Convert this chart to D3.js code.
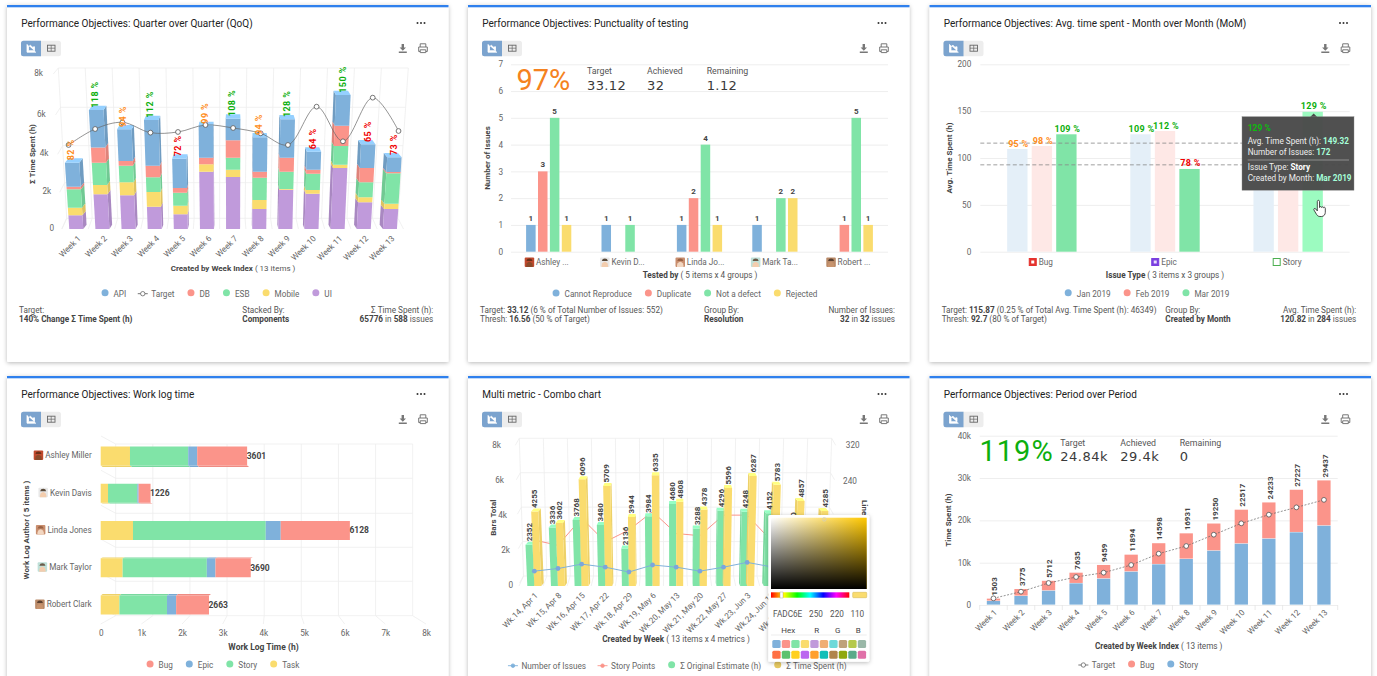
<!doctype html>
<html>
<head>
<meta charset="utf-8"/>
<title>Performance Objectives dashboard</title>
<script src="https://d3js.org/d3.v7.min.js"></script>
<style>
html,body{margin:0;padding:0;background:#fff;overflow:hidden}
svg{display:block}
text{font-family:Roboto,sans-serif}
</style>
</head>
<body>
<script>
// ---- data ----
var weeks = ['Week 1','Week 2','Week 3','Week 4','Week 5','Week 6','Week 7','Week 8','Week 9','Week 10','Week 11','Week 12','Week 13'];

// Quarter over Quarter
var qoqUi     = [745,1891,1836,1218,800,3087,2807,1091,2140,1927,3280,1455,1091];
var qoqMobile = [419,495,690,800,473,386,386,491,35,196,176,282,291];
var qoqEsb    = [994,1175,877,771,709,0,631,1190,912,859,968,789,1618];
var qoqDb     = [140,789,246,614,246,351,888,316,737,211,1034,754,70];
var qoqApi    = [1263,1894,1622,2343,1544,1617,1102,1776,1956,943,1518,1228,772];
var qoqTarget = [4475,5288,5627,5102,5136,5492,5339,5068,4475,6406,4661,6846,5186];
var qoqPct    = [82,118,94,112,72,99,108,94,128,64,150,65,73];
var qoqTicks  = [0,2000,4000,6000,8000];

// Punctuality of testing
var testers     = ['Ashley ...','Kevin D...','Linda Jo...','Mark Ta...','Robert ...'];
var cannotRepro = [1,1,1,1,null];
var duplicate   = [3,null,2,null,1];
var notDefect   = [5,1,4,2,5];
var rejected    = [1,null,1,2,1];

// Avg. time spent MoM (Story Jan/Feb labels sit under the tooltip)
var issueTypes = ['Bug','Epic','Story'];
var momJan = [109.6,125.3,128];
var momFeb = [112.8,128.8,125];
var momMar = [125.3,88.3,149.32];
var momJanPct = [95,109,null];
var momFebPct = [98,112,null];
var momMarPct = [109,78,129];
var momTarget = 115.87;
var momThresh = 92.7;

// Work log time
var authors  = ['Ashley Miller','Kevin Davis','Linda Jones','Mark Taylor','Robert Clark'];
var logTask  = [720,180,794,540,460];
var logStory = [1432,720,3265,2070,1170];
var logEpic  = [221,33,368,213,225];
var logBug   = [1228,293,1701,867,808];
var logTicks = [0,1000,2000,3000,4000,5000,6000,7000,8000];

// Combo chart
var comboWeeks = ['Wk.14, Apr 1','Wk.15, Apr 8','Wk.16, Apr 15','Wk.17, Apr 22','Wk.18, Apr 29','Wk.19, May 6','Wk.20, May 13','Wk.21, May 20','Wk.22, May 27','Wk.23, Jun 3','Wk.24, Jun 10','Wk.25, Jun 17','Wk.26, Jun 24'];
var comboEstimate = [2352,3336,3768,3480,2136,3984,4680,3288,4296,4248,4152,2970,2700];
var comboSpent    = [4255,3602,6096,5709,3944,6335,4808,4378,5596,6287,5783,4857,4285];
var comboIssues   = [34,40,50,43,32,48,43,34,43,54,44,40,38];
var comboPoints   = [105,93,155,101,128,170,120,115,162,162,105,110,100];

// Period over period
var popStory  = [945,2126,3386,5118,6220,7874,9606,10866,12835,14488,15669,17165,18740];
var popBug    = [558,1649,2326,2517,3239,4020,4992,6065,6415,8029,8564,10062,10697];
var popTarget = [1575,3150,5197,6614,7638,9449,12126,13937,16614,19291,21339,23071,24840];

// palette
var blue='#7FB1DB', red='#FB948A', green='#80E4A7', yellow='#FADC6E', purple='#C09ADB';
var swatches1 = ['#7FB1DB','#FB948A','#80E4A7','#FADC6E','#C09ADB','#F0AE75','#6ED9D9','#BFA27A','#B5C94B','#9AB8A8'];
var swatches2 = ['#FF7043','#5CC26E','#FFD020','#BB66F0','#FF9F2E','#10BFB8','#B0844A','#8FA80E','#5BAA8A','#E070A8'];
var avatars = [['#C0492D','#8A4A2A','#6B3018'],['#E8E8E8','#F3CDAE','#5A4A3A'],['#C98E6E','#F2D6C0','#9A6244'],['#BFE0D8','#F3CDAE','#6A5A48'],['#B98A68','#C8946E','#5A4030']];

function pctColor(p){ return p>=100 ? '#0DAF0D' : p>=80 ? '#FF8C1A' : '#F00000'; }
function kFmt(d){ return d ? d/1000+'k' : '0'; }

var svg = d3.select('body').append('svg').attr('width',1377).attr('height',676);
var defs = svg.append('defs');
defs.append('filter').attr('id','shadow').attr('x','-5%').attr('y','-5%').attr('width','110%').attr('height','110%')
  .append('feDropShadow').attr('dx',0).attr('dy',1).attr('stdDeviation',2.2).attr('flood-color','#000').attr('flood-opacity',0.28);
var gh = defs.append('linearGradient').attr('id','pickH');
gh.append('stop').attr('offset','0').attr('stop-color','#fff');
gh.append('stop').attr('offset','1').attr('stop-color','#FFC800');
var gv = defs.append('linearGradient').attr('id','pickV').attr('x2',0).attr('y2',1);
gv.append('stop').attr('offset','0').attr('stop-color','#000').attr('stop-opacity',0);
gv.append('stop').attr('offset','1').attr('stop-color','#000').attr('stop-opacity',1);
var hue = defs.append('linearGradient').attr('id','pickHue');
['#f00','#ff0','#0f0','#0ff','#00f','#f0f','#f00'].forEach(function(c,i){
  hue.append('stop').attr('offset',i/6).attr('stop-color',c);
});

// ---- little helpers ----
function txt(g,x,y,s,o){
  o=o||{};
  var t=g.append('text').attr('x',x).attr('y',y).attr('dy','0.35em')
    .attr('font-size',o.size||8.2).attr('fill',o.fill||'#555')
    .attr('text-anchor',o.anchor||'start').text(s);
  if(o.bold) t.attr('font-weight','bold');
  if(o.family) t.style('font-family',o.family);
  if(o.spacing) t.attr('letter-spacing',o.spacing);
  if(o.rotate!==undefined) t.attr('transform','rotate('+o.rotate+' '+x+' '+y+')');
  return t;
}
function rich(g,x,y,parts,o){
  o=o||{};
  var t=g.append('text').attr('x',x).attr('y',y).attr('dy','0.35em')
    .attr('font-size',o.size||8.2).attr('fill',o.fill||'#555').attr('text-anchor',o.anchor||'start');
  parts.forEach(function(p){
    var s=t.append('tspan').text(p[0]);
    if(p[1]) s.attr('font-weight','bold').attr('fill',p[2]||'#444');
  });
  return t;
}
function card(x,y,h,title){
  var g=svg.append('g');
  g.append('rect').attr('x',x).attr('y',y).attr('width',441.5).attr('height',h).attr('rx',1.5).attr('fill','#fff').attr('filter','url(#shadow)');
  g.append('rect').attr('x',x).attr('y',y).attr('width',441.5).attr('height',2.3).attr('fill','#2F80ED');
  txt(g,x+14.3,y+18.5,title,{size:10,fill:'#222'});
  [409.5,413,416.5].forEach(function(d){ g.append('circle').attr('cx',x+d+1).attr('cy',y+18).attr('r',1).attr('fill','#333'); });
  // chart / table switch
  var by=y+35.7;
  g.append('rect').attr('x',x+14).attr('y',by).attr('width',40).attr('height',15.5).attr('rx',2.5).attr('fill','#EDEDED');
  g.append('path').attr('d','M'+(x+16.5)+' '+by+'h17.5v15.5h-17.5a2.5 2.5 0 0 1 -2.5 -2.5v-10.5a2.5 2.5 0 0 1 2.5 -2.5z').attr('fill','#7BA3CE');
  g.append('path').attr('d','M'+(x+20)+' '+(by+3.5)+'v8h9 M'+(x+21.5)+' '+(by+10)+'v-4l2 -1.5l1.8 2l2.2 -0.5v4z').attr('fill','#fff').attr('stroke','#fff').attr('stroke-width',0.8);
  g.append('rect').attr('x',x+40.5).attr('y',by+4.5).attr('width',7.5).attr('height',6).attr('fill','none').attr('stroke','#666').attr('stroke-width',0.9);
  g.append('path').attr('d','M'+(x+40.5)+' '+(by+7.5)+'h7.5M'+(x+44.2)+' '+(by+4.5)+'v6').attr('stroke','#666').attr('stroke-width',0.7);
  // download / print
  var ix=x+395.8, iy=y+43;
  g.append('path').attr('d','M'+(ix-1.2)+' '+(iy-4)+'h2.4v3.5h2l-3.2 3.2l-3.2 -3.2h2z M'+(ix-4)+' '+(iy+3.5)+'h8v1.5h-8z').attr('fill','#777');
  var px=x+416, py=y+43;
  g.append('path').attr('d','M'+(px-2.8)+' '+(py-1)+'v-3.2h5.6v3.2 M'+(px-2.8)+' '+(py+3.5)+'h-1.5v-4.5h8.6v4.5h-1.5 M'+(px-2.8)+' '+(py+1.8)+'h5.6v2.8h-5.6z').attr('fill','none').attr('stroke','#777').attr('stroke-width',1);
  return g;
}
function legend(g,cx,y,items){
  var it=g.append('g'), xx=0;
  items.forEach(function(d){
    var t=txt(it,xx+12,y,d.label,{size:8.2,fill:'#666'});
    var w=t.node().getComputedTextLength();
    if(d.kind==='line'){
      it.append('line').attr('x1',xx-1.5).attr('x2',xx+8.5).attr('y1',y).attr('y2',y).attr('stroke',d.color).attr('stroke-width',0.9);
      it.append('circle').attr('cx',xx+3.5).attr('cy',y).attr('r',d.hollow?2.2:1.8).attr('fill',d.hollow?'#fff':d.color).attr('stroke',d.color).attr('stroke-width',0.8);
    } else {
      it.append('circle').attr('cx',xx+3.5).attr('cy',y-1).attr('r',3.5).attr('fill',d.color);
    }
    xx+=12+w+d.gap;
  });
  it.attr('transform','translate('+(cx-(xx-items[items.length-1].gap)/2)+',0)');
}
function avatar(g,x,y,a){
  g.append('rect').attr('x',x).attr('y',y).attr('width',9.5).attr('height',9.5).attr('rx',1).attr('fill',a[0]);
  g.append('path').attr('d','M'+(x+1.5)+' '+(y+9.5)+'a3.3 4.5 0 1 1 6.5 0z').attr('fill',a[1]);
  g.append('path').attr('d','M'+(x+1.7)+' '+(y+3.5)+'a3.1 3 0 0 1 6.1 0z').attr('fill',a[2]);
}
// 3d column: perspective pulls the columns apart going up, back face shrinks toward centre
function persp(P){
  var fx=function(x,y){ return P.cx+(x-P.cx)*(1+(P.y0-y)*P.lean); };
  var bx=function(x,y){ var f=fx(x,y); return f+(P.cx-f)*P.depth; };
  return {fx:fx,bx:bx};
}
function columns(g,rows,color,P){
  var p=persp(P);
  var col=d3.color(color);
  var pts=function(a){ return a.map(function(q){return q.join(',');}).join(' '); };
  var lay=g.append('g');
  lay.selectAll('polygon.side').data(rows).join('polygon').attr('class','side')
    .attr('fill',col.darker(P.shade))
    .attr('points',function(d){
      var s=(d.x0+d.x1)/2<P.cx ? d.x1 : d.x0;
      return pts([[p.fx(s,d.yBot),d.yBot],[p.fx(s,d.yTop),d.yTop],[p.bx(s,d.yTop),d.yTop-P.rise],[p.bx(s,d.yBot),d.yBot-P.rise]]);
    });
  lay.selectAll('polygon.front').data(rows).join('polygon').attr('class','front')
    .attr('fill',color)
    .attr('points',function(d){
      return pts([[p.fx(d.x0,d.yBot),d.yBot],[p.fx(d.x1,d.yBot),d.yBot],[p.fx(d.x1,d.yTop),d.yTop],[p.fx(d.x0,d.yTop),d.yTop]]);
    });
  lay.selectAll('polygon.cap').data(rows.filter(function(d){return d.cap;})).join('polygon').attr('class','cap')
    .attr('fill',col.brighter(0.45))
    .attr('points',function(d){
      return pts([[p.fx(d.x0,d.yTop),d.yTop],[p.fx(d.x1,d.yTop),d.yTop],[p.bx(d.x1,d.yTop),d.yTop-P.rise],[p.bx(d.x0,d.yTop),d.yTop-P.rise]]);
    });
}
function styleAxis(a,grid){
  a.select('.domain').remove();
  a.selectAll('.tick line').attr('stroke',grid||'#EEE');
  a.selectAll('.tick text').attr('fill','#666').attr('font-size',8.2).style('font-family','Roboto,sans-serif');
}

// ---- 1. Quarter over Quarter ----
(function(){
  var g=card(7,5,357,'Performance Objectives: Quarter over Quarter (QoQ)');
  var x=d3.scaleBand().domain(weeks).range([63.2,403]);
  var yFront=d3.scaleLinear().domain(qoqTicks).range([229,192.3,154.3,115,74]);
  var yBack=d3.scaleLinear().domain(qoqTicks).range([218.3,182.7,145.7,107.3,68]);
  var xTop=d3.scaleLinear().domain([0,13]).range([58.3,408.3]);
  var xBot=d3.scaleLinear().domain([0,13]).range([66.7,398]);
  var xFloor=d3.scaleLinear().domain([0,13]).range([62,403.5]);
  var grid=g.append('g').attr('stroke','#EDEDED').attr('stroke-width',0.8).attr('fill','none');
  grid.selectAll('path.v').data(d3.range(14)).join('path').attr('class','v')
    .attr('d',function(i){return 'M'+xTop(i)+' 68L'+xBot(i)+' 218.3L'+xFloor(i)+' 229';});
  grid.selectAll('path.h').data(qoqTicks).join('path').attr('class','h')
    .attr('d',function(t){
      var yb=yBack(t), f=(yb-68)/150.3;
      var l=58.3+8.4*f, r=408.3-10.3*f;
      return 'M'+(l-5)+' '+yFront(t)+'L'+l+' '+yb+'L'+r+' '+yb;
    });
  g.selectAll('text.ty').data(qoqTicks).join('text').attr('class','ty')
    .attr('x',function(t){return 43+ (8000-t)/8000*11;})
    .attr('y',function(t){return yFront(t)-1;}).attr('dy','0.35em').attr('text-anchor','end')
    .attr('font-size',8.2).attr('fill','#666').text(kFmt);

  var P={cx:233,y0:229,lean:0.0004,depth:0.022,rise:4.3,shade:0.35};
  var keys=['ui','mobile','esb','db','api'];
  var table=weeks.map(function(w,i){return {w:w,ui:qoqUi[i],mobile:qoqMobile[i],esb:qoqEsb[i],db:qoqDb[i],api:qoqApi[i]};});
  var colors={ui:purple,mobile:yellow,esb:green,db:red,api:blue};
  var bw=14;
  d3.stack().keys(keys)(table).forEach(function(layer){
    var rows=layer.filter(function(d){return d[1]>d[0];}).map(function(d){
      var cx=x(d.data.w)+x.bandwidth()/2;
      return {x0:cx-bw/2,x1:cx+bw/2,yTop:yFront(d[1]),yBot:yFront(d[0]),cap:layer.key==='api'};
    });
    columns(g,rows,colors[layer.key],P);
  });
  var p=persp(P);
  var cxOf=function(i){return x(weeks[i])+x.bandwidth()/2;};
  var tops=weeks.map(function(w,i){return qoqUi[i]+qoqMobile[i]+qoqEsb[i]+qoqDb[i]+qoqApi[i];});
  var tPts=qoqTarget.map(function(v,i){ var yy=yFront(v); return [233+(p.fx(cxOf(i),yy)-233)*1.015,yy]; });
  g.append('path').attr('d',d3.line().curve(d3.curveCatmullRom.alpha(0.5))(tPts)).attr('fill','none').attr('stroke','#666').attr('stroke-width',0.7);
  g.selectAll('circle.t').data(tPts).join('circle').attr('class','t').attr('cx',function(d){return d[0];}).attr('cy',function(d){return d[1];})
    .attr('r',2.4).attr('fill','#fff').attr('stroke','#555').attr('stroke-width',0.8);
  tops.forEach(function(v,i){
    var yy=yFront(v)-P.rise;
    txt(g,p.fx(cxOf(i),yy)-1,yy+2,qoqPct[i]+' %',{size:9,bold:true,fill:pctColor(qoqPct[i]),spacing:0.4,rotate:-90});
  });
  weeks.forEach(function(w,i){
    txt(g,cxOf(i)+3,237,w,{fill:'#666',anchor:'end',rotate:-45});
  });
  txt(g,32,154,'Σ Time Spent (h)',{size:8,bold:true,fill:'#444',anchor:'middle',rotate:-90});
  rich(g,233,267.7,[['Created by Week Index',true],[' ( 13 items )']],{anchor:'middle',size:8});
  legend(g,216.7,293.7,[{label:'API',color:blue,gap:13},{label:'Target',color:'#666',kind:'line',hollow:true,gap:13},{label:'DB',color:red,gap:13},{label:'ESB',color:green,gap:13},{label:'Mobile',color:yellow,gap:13},{label:'UI',color:purple,gap:0}]);
  txt(g,19,310.3,'Target:');
  rich(g,19,319.5,[['140% Change Σ Time Spent (h)',true]]);
  txt(g,242.3,310.3,'Stacked By:');
  rich(g,242.3,319.5,[['Components',true]]);
  txt(g,433.3,310.3,'Σ Time Spent (h):',{anchor:'end'});
  rich(g,433.3,319.5,[['65776',true],[' in '],['588',true],[' issues']],{anchor:'end'});
})();

// ---- 2. Punctuality of testing ----
(function(){
  var g=card(468,5,357,'Performance Objectives: Punctuality of testing');
  var x=d3.scaleBand().domain(testers).range([511,888]);
  var y=d3.scaleLinear().domain([0,7]).range([251.7,64.3]);
  var a=g.append('g').attr('transform','translate(511,0)').call(d3.axisLeft(y).ticks(7).tickSize(-377).tickPadding(8));
  styleAxis(a);
  var series=[{k:'Cannot Reproduce',v:cannotRepro,c:blue},{k:'Duplicate',v:duplicate,c:red},{k:'Not a defect',v:notDefect,c:green},{k:'Rejected',v:rejected,c:yellow}];
  var x1=d3.scaleBand().domain(series.map(function(s){return s.k;})).range([-22.6,22.6]).paddingInner(0.2);
  series.forEach(function(s){
    var rows=s.v.map(function(v,i){return {v:v,t:testers[i]};}).filter(function(d){return d.v!==null;});
    g.selectAll(null).data(rows).join('rect')
      .attr('x',function(d){return x(d.t)+x.bandwidth()/2+x1(s.k);}).attr('width',x1.bandwidth())
      .attr('y',function(d){return y(d.v);}).attr('height',function(d){return y(0)-y(d.v);}).attr('fill',s.c);
    g.selectAll(null).data(rows).join('text')
      .attr('x',function(d){return x(d.t)+x.bandwidth()/2+x1(s.k)+x1.bandwidth()/2;})
      .attr('y',function(d){return y(d.v)-4;}).attr('text-anchor','middle').attr('font-size',8).attr('font-weight','bold').attr('fill','#444').text(function(d){return d.v;});
  });
  testers.forEach(function(t,i){
    var c=x(t)+x.bandwidth()/2;
    avatar(g,c-24,257.5,avatars[i]);
    txt(g,c-12.7,262.3,t,{fill:'#666'});
  });
  txt(g,487.7,158,'Number of Issues',{size:8,bold:true,fill:'#444',anchor:'middle',rotate:-90});
  rich(g,700,275.3,[['Tested by',true],[' ( 5 items x 4 groups )']],{anchor:'middle'});
  legend(g,685,294,[{label:'Cannot Reproduce',color:blue,gap:13},{label:'Duplicate',color:red,gap:13},{label:'Not a defect',color:green,gap:13},{label:'Rejected',color:yellow,gap:0}]);
  txt(g,516.5,80,'97%',{size:29,fill:'#F58220'});
  var big={size:13,fill:'#3A3A3A',family:'"DejaVu Sans"',spacing:0.4};
  [['Target','33.12',587],['Achieved','32',647],['Remaining','1.12',706.7]].forEach(function(k){
    txt(g,k[2],71.3,k[0],{size:8.8,fill:'#555'});
    txt(g,k[2],85.3,k[1],big);
  });
  rich(g,480,310.3,[['Target: '],['33.12',true],[' (6 % of Total Number of Issues: 552)']]);
  rich(g,480,319.5,[['Thresh: '],['16.56',true],[' (50 % of Target)']]);
  txt(g,704,310.3,'Group By:');
  rich(g,704,319.5,[['Resolution',true]]);
  txt(g,895,310.3,'Number of Issues:',{anchor:'end'});
  rich(g,895,319.5,[['32',true],[' in '],['32',true],[' issues']],{anchor:'end'});
})();

// ---- 3. Avg. time spent MoM ----
(function(){
  var g=card(929.5,5,357,'Performance Objectives: Avg. time spent - Month over Month (MoM)');
  var x=d3.scaleBand().domain(issueTypes).range([980.3,1349.7]);
  var y=d3.scaleLinear().domain([0,200]).range([251.7,64.3]);
  var a=g.append('g').attr('transform','translate(980.3,0)').call(d3.axisLeft(y).tickValues([0,50,100,150,200]).tickSize(-369.4).tickPadding(9));
  styleAxis(a);
  var series=[{k:'Jan 2019',v:momJan,p:momJanPct,c:'#E4EFF8'},{k:'Feb 2019',v:momFeb,p:momFebPct,c:'#FEE8E6'},{k:'Mar 2019',v:momMar,p:momMarPct,c:green}];
  var x1=d3.scaleBand().domain(series.map(function(s){return s.k;})).range([-34.7,34.7]).paddingInner(0.17);
  series.forEach(function(s){
    var rows=s.v.map(function(v,i){return {v:v,t:issueTypes[i],p:s.p[i]};});
    g.selectAll(null).data(rows).join('rect')
      .attr('x',function(d){return x(d.t)+x.bandwidth()/2+x1(s.k);}).attr('width',x1.bandwidth())
      .attr('y',function(d){return y(d.v);}).attr('height',function(d){return y(0)-y(d.v);})
      .attr('fill',function(d){return d.t==='Story'&&s.k==='Mar 2019' ? '#9CFBC0' : s.c;});
  });
  [momTarget,momThresh].forEach(function(v){
    g.append('line').attr('x1',980.3).attr('x2',1349.7).attr('y1',y(v)).attr('y2',y(v)).attr('stroke','#888').attr('stroke-width',0.8).attr('stroke-dasharray','4,2.5');
  });
  series.forEach(function(s){
    var rows=s.v.map(function(v,i){return {v:v,t:issueTypes[i],p:s.p[i]};}).filter(function(d){return d.p!==null;});
    g.selectAll(null).data(rows).join('text')
      .attr('x',function(d){return x(d.t)+x.bandwidth()/2+x1(s.k)+x1.bandwidth()/2+1;})
      .attr('y',function(d){return y(d.v)-2.5;}).attr('text-anchor','middle').attr('font-size',9).attr('font-weight','bold').attr('letter-spacing',0.3)
      .attr('fill',function(d){return pctColor(d.p);}).text(function(d){return d.p+' %';});
  });
  // issue type labels with their small icons
  var icons=[['#E5322D','#fff'],['#7A3FE0','#E8DDFB'],['#fff','#4CAF50']];
  issueTypes.forEach(function(t,i){
    var c=x(t)+x.bandwidth()/2;
    var lab=txt(g,c,262.5,t,{fill:'#666'});
    var w=lab.node().getComputedTextLength(), sx=c-(w+10)/2-1;
    lab.attr('x',sx+10);
    g.append('rect').attr('x',sx+0.5).attr('y',258.5).attr('width',7).attr('height',7).attr('fill',icons[i][0]).attr('stroke',i===2?icons[i][1]:icons[i][0]).attr('stroke-width',1);
    if(i<2) g.append('rect').attr('x',sx+2.5).attr('y',260.5).attr('width',3).attr('height',3).attr('fill',icons[i][1]);
  });
  txt(g,949,158,'Avg. Time Spent (h)',{size:8,bold:true,fill:'#444',anchor:'middle',rotate:-90});
  rich(g,1165,275.3,[['Issue Type',true],[' ( 3 items x 3 groups )']],{anchor:'middle'});
  legend(g,1147,293.7,[{label:'Jan 2019',color:blue,gap:13},{label:'Feb 2019',color:red,gap:13},{label:'Mar 2019',color:green,gap:0}]);
  rich(g,941.7,310.3,[['Target: '],['115.87',true],[' (0.25 % of Total Avg. Time Spent (h): 46349)']]);
  rich(g,941.7,319.5,[['Thresh: '],['92.7',true],[' (80 % of Target)']]);
  txt(g,1165.3,310.3,'Group By:');
  rich(g,1165.3,319.5,[['Created by Month',true]]);
  txt(g,1356.3,310.3,'Avg. Time Spent (h):',{anchor:'end'});
  rich(g,1356.3,319.5,[['120.82',true],[' in '],['284',true],[' issues']],{anchor:'end'});
  // tooltip of the hovered column
  var tt=g.append('g');
  tt.append('path').attr('d','M1313.7 113.5l3.5 3.5h-7z').attr('fill','#4A4A4A');
  tt.append('rect').attr('x',1242).attr('y',116.7).attr('width',112).attr('height',73.5).attr('fill','#4A4A4A').attr('fill-opacity',0.97).attr('stroke','#888').attr('stroke-width',0.4);
  txt(tt,1247.7,128.3,'129 %',{size:8.5,bold:true,fill:'#0DBB0D'});
  var val='#A6FFD8';
  rich(tt,1247.7,140.7,[['Avg. Time Spent (h): '],['149.32',true,val]],{size:8.2,fill:'#eee'});
  rich(tt,1247.7,152,[['Number of Issues: '],['172',true,val]],{size:8.2,fill:'#eee'});
  tt.append('line').attr('x1',1247.7).attr('x2',1349).attr('y1',160).attr('y2',160).attr('stroke','#bbb').attr('stroke-width',0.6);
  rich(tt,1247.7,167.3,[['Issue Type: '],['Story',true,'#fff']],{size:8.2,fill:'#eee'});
  rich(tt,1247.7,178.3,[['Created by Month: '],['Mar 2019',true,val]],{size:8.2,fill:'#eee'});
  // hand cursor
  g.append('path').attr('d','M1317.3 201.5c0 -1.6 2.2 -1.6 2.2 0v6c0.4 -1.2 2 -1.2 2.2 0c0.3 -1 1.8 -1 2 0.2c0.4 -0.7 1.6 -0.5 1.6 0.6v4c0 2.2 -1.4 4.2 -3.8 4.2h-1.6c-1.7 0 -2.6 -0.9 -3.4 -2.2l-2.6 -4.4c-0.6 -1.2 1 -2 1.8 -1l1.6 2z')
    .attr('fill','#fff').attr('stroke','#222').attr('stroke-width',0.8);
})();

// ---- 4. Work log time ----
(function(){
  var g=card(7,376,310,'Performance Objectives: Work log time');
  var x=d3.scaleLinear().domain([0,8000]).range([100.7,426]);
  var y=d3.scalePoint().domain(authors).range([456,605]);
  var back=d3.scaleLinear().domain([0,8000]).range([115.7,412.7]);
  var rowY=[444,478.3,513.3,547.3,581.3,615.7];
  var grid=g.append('g').attr('stroke','#EDEDED').attr('stroke-width',0.8).attr('fill','none');
  grid.selectAll('path.v').data(logTicks).join('path').attr('class','v')
    .attr('d',function(t){return 'M'+back(t)+' 444V615.7L'+x(t)+' 624';});
  grid.selectAll('path.h').data(rowY).join('path').attr('class','h')
    .attr('d',function(v){return 'M101 '+(v-8)+'L115.7 '+v+'H412.7';});
  var a=g.append('g').attr('transform','translate(0,633)').call(d3.axisBottom(x).tickValues(logTicks).tickSize(0).tickPadding(0).tickFormat(kFmt));
  styleAxis(a);
  a.selectAll('.tick text').attr('dy','0.35em').attr('y',0);
  var keys=['task','story','epic','bug'];
  var table=authors.map(function(n,i){return {n:n,task:logTask[i],story:logStory[i],epic:logEpic[i],bug:logBug[i]};});
  var colors={task:yellow,story:green,epic:blue,bug:red};
  var h=19;
  d3.stack().keys(keys)(table).forEach(function(layer){
    g.selectAll(null).data(layer).join('polygon')
      .attr('fill',d3.color(colors[layer.key]).darker(0.15))
      .attr('points',function(d){
        var c=y(d.data.n), off=(530-c)*0.02, e=off>0 ? c+h/2 : c-h/2;
        return [[x(d[0]),e],[x(d[1]),e],[x(d[1])+2,e+off],[x(d[0])+2,e+off]].map(function(q){return q.join(',');}).join(' ');
      });
    g.selectAll(null).data(layer).join('rect')
      .attr('x',function(d){return x(d[0]);}).attr('width',function(d){return x(d[1])-x(d[0]);})
      .attr('y',function(d){return y(d.data.n)-h/2;}).attr('height',h).attr('fill',colors[layer.key]);
  });
  table.forEach(function(d){
    var tot=d.task+d.story+d.epic+d.bug;
    txt(g,x(tot)-0.5,y(d.n),tot,{size:8.5,bold:true,fill:'#444'});
  });
  authors.forEach(function(n,i){
    var t=txt(g,91.7,y(n)-0.5,n,{fill:'#666',anchor:'end'});
    avatar(g,91.7-t.node().getComputedTextLength()-11.5,y(n)-5.5,avatars[i]);
  });
  txt(g,26,530,'Work Log Author ( 5 items )',{size:8,bold:true,fill:'#444',anchor:'middle',rotate:-90});
  txt(g,263.5,647,'Work Log Time (h)',{size:8.5,bold:true,fill:'#444',anchor:'middle'});
  legend(g,223,665,[{label:'Bug',color:red,gap:13},{label:'Epic',color:blue,gap:13},{label:'Story',color:green,gap:13},{label:'Task',color:yellow,gap:0}]);
})();

// ---- 5. Combo chart ----
(function(){
  var g=card(468,376,310,'Multi metric - Combo chart');
  var x=d3.scaleBand().domain(comboWeeks).range([522.5,829.9]);
  var y=d3.scaleLinear().domain([0,8000]).range([586,446]);
  var yLine=d3.scaleLinear().domain([0,320]).range([586,446]);
  var ticks=[0,2000,4000,6000,8000];
  var yBack=d3.scaleLinear().domain([0,8000]).range([576,438.3]);
  var xTop=d3.scaleLinear().domain([0,13]).range([519.3,831.7]);
  var xBot=d3.scaleLinear().domain([0,13]).range([523.5,827]);
  var xFloor=d3.scaleLinear().domain([0,13]).range([519,832]);
  var grid=g.append('g').attr('stroke','#EDEDED').attr('stroke-width',0.8).attr('fill','none');
  grid.selectAll('path.v').data(d3.range(14)).join('path').attr('class','v')
    .attr('d',function(i){return 'M'+xTop(i)+' 438.3L'+xBot(i)+' 576L'+xFloor(i)+' 586';});
  grid.selectAll('path.h').data(ticks).join('path').attr('class','h')
    .attr('d',function(t){
      var yb=yBack(t), f=(yb-438.3)/137.7, l=519.3+4.2*f, r=831.7-4.7*f;
      return 'M'+(l-4)+' '+(yb+7)+'L'+l+' '+yb+'L'+r+' '+yb+'L'+(r+4)+' '+(yb+7);
    });
  g.selectAll('text.ty').data(ticks).join('text').attr('class','ty')
    .attr('x',function(t){return 513-(t/8000)*12;}).attr('y',function(t){return y(t)-1;}).attr('dy','0.35em')
    .attr('text-anchor','end').attr('font-size',8.2).attr('fill','#666').text(kFmt);
  txt(g,852.7,445,'320',{fill:'#666',anchor:'middle'});
  txt(g,850,481,'240',{fill:'#666',anchor:'middle'});
  txt(g,864.5,500,'Lines Total',{size:8,bold:true,fill:'#444',rotate:90});

  var line=d3.line().x(function(d){return d[0];}).y(function(d){return d[1];}).curve(d3.curveLinear);
  var cOf=function(w){return x(w)+x.bandwidth()/2;};
  g.append('path').attr('d',line(comboPoints.map(function(v,i){return [cOf(comboWeeks[i]),yLine(v)];})))
    .attr('fill','none').attr('stroke',red).attr('stroke-width',1);

  var P={cx:676,y0:586,lean:0.0003,depth:0.018,rise:3,shade:0.15};
  var bw=7;
  columns(g,comboEstimate.map(function(v,i){var c=cOf(comboWeeks[i]);return {x0:c-bw,x1:c,yTop:y(v),yBot:y(0),cap:true};}),green,P);
  columns(g,comboSpent.map(function(v,i){var c=cOf(comboWeeks[i]);return {x0:c,x1:c+bw,yTop:y(v),yBot:y(0),cap:true};}),yellow,P);

  var blueLine=comboIssues.map(function(v,i){return [cOf(comboWeeks[i]),yLine(v)];});
  g.append('path').attr('d',line(blueLine)).attr('fill','none').attr('stroke',blue).attr('stroke-width',1);
  g.selectAll('circle.b').data(blueLine).join('circle').attr('class','b').attr('cx',function(d){return d[0];}).attr('cy',function(d){return d[1];}).attr('r',2.4).attr('fill','#7BA6DC');

  var p=persp(P);
  comboEstimate.forEach(function(v,i){
    var c=cOf(comboWeeks[i]), yy=y(v)-P.rise;
    txt(g,p.fx(c-bw/2,yy),yy-0.5,v,{size:8,bold:true,fill:'#444',rotate:-90});
  });
  comboSpent.forEach(function(v,i){
    var c=cOf(comboWeeks[i]), yy=y(v)-P.rise;
    txt(g,p.fx(c+bw/2,yy),yy-0.5,v,{size:8,bold:true,fill:'#444',rotate:-90});
  });
  comboWeeks.forEach(function(w){
    txt(g,cOf(w)+2,594,w,{fill:'#666',anchor:'end',rotate:-45});
  });
  txt(g,493.3,517.7,'Bars Total',{size:8,bold:true,fill:'#444',anchor:'middle',rotate:-90});
  rich(g,676,639.3,[['Created by Week',true],[' ( 13 items x 4 metrics )']],{anchor:'middle'});
  legend(g,678,665.7,[{label:'Number of Issues',color:blue,kind:'line',gap:13},{label:'Story Points',color:red,kind:'line',gap:13},{label:'Σ Original Estimate (h)',color:green,gap:13},{label:'Σ Time Spent (h)',color:'#E5C860',gap:0}]);

  // colour picker open over the chart
  var pk=g.append('g');
  pk.append('rect').attr('x',768.3).attr('y',515).attr('width',101).attr('height',146.7).attr('rx',1.5).attr('fill','#fff').attr('filter','url(#shadow)');
  pk.append('rect').attr('x',771).attr('y',517.7).attr('width',95.7).attr('height',71.3).attr('fill','url(#pickH)');
  pk.append('rect').attr('x',771).attr('y',517.7).attr('width',95.7).attr('height',71.3).attr('fill','url(#pickV)');
  pk.append('circle').attr('cx',824.3).attr('cy',519.3).attr('r',1.8).attr('fill','none').attr('stroke','#ccc').attr('stroke-width',0.7);
  pk.append('rect').attr('x',771).attr('y',592.3).attr('width',78.3).attr('height',5.4).attr('fill','url(#pickHue)');
  pk.append('rect').attr('x',780).attr('y',592).attr('width',3).attr('height',6).attr('fill','#fff').attr('stroke','#999').attr('stroke-width',0.4);
  pk.append('rect').attr('x',852.7).attr('y',592.3).attr('width',14).attr('height',5.4).attr('rx',0.8).attr('fill','#FADC6E').attr('stroke','#D8BC58').attr('stroke-width',0.6);
  txt(pk,787.7,614,'FADC6E',{size:8.2,fill:'#555',anchor:'middle'});
  txt(pk,816,614,'250',{size:8.2,fill:'#555',anchor:'middle'});
  txt(pk,837,614,'220',{size:8.2,fill:'#555',anchor:'middle'});
  txt(pk,857.3,614,'110',{size:8.2,fill:'#555',anchor:'middle'});
  txt(pk,788.3,630.3,'Hex',{size:8,fill:'#444',anchor:'middle'});
  txt(pk,816.7,630.3,'R',{size:8,fill:'#444',anchor:'middle'});
  txt(pk,837.7,630.3,'G',{size:8,fill:'#444',anchor:'middle'});
  txt(pk,858.3,630.3,'B',{size:8,fill:'#444',anchor:'middle'});
  pk.append('line').attr('x1',771).attr('x2',866.7).attr('y1',635).attr('y2',635).attr('stroke','#E5E5E5').attr('stroke-width',0.7);
  [[swatches1,640],[swatches2,650.7]].forEach(function(r){
    pk.selectAll(null).data(r[0]).join('rect').attr('x',function(d,i){return 772.3+i*9.5;}).attr('y',r[1])
      .attr('width',8.3).attr('height',8).attr('rx',1.5).attr('fill',function(d){return d;});
  });
})();

// ---- 6. Period over period ----
(function(){
  var g=card(929.5,376,310,'Performance Objectives: Period over Period');
  var x=d3.scaleBand().domain(weeks).range([979.7,1337.7]);
  var y=d3.scaleLinear().domain([0,40000]).range([605,435.7]);
  var a=g.append('g').attr('transform','translate(979.7,0)').call(d3.axisLeft(y).tickValues([0,10000,20000,30000,40000]).tickSize(-358).tickPadding(8.7).tickFormat(kFmt));
  styleAxis(a);
  g.selectAll('line.tk').data(d3.range(14)).join('line').attr('class','tk')
    .attr('x1',function(i){return 979.7+i*x.step();}).attr('x2',function(i){return 979.7+i*x.step();})
    .attr('y1',605).attr('y2',610).attr('stroke','#E5E5E5').attr('stroke-width',0.8);
  var bw=13.3;
  var table=weeks.map(function(w,i){return {w:w,story:popStory[i],bug:popBug[i]};});
  var colors={story:blue,bug:red};
  d3.stack().keys(['story','bug'])(table).forEach(function(layer){
    g.selectAll(null).data(layer).join('rect')
      .attr('x',function(d){return x(d.data.w)+x.bandwidth()/2-bw/2;}).attr('width',bw)
      .attr('y',function(d){return y(d[1]);}).attr('height',function(d){return y(d[0])-y(d[1])-0.4;})
      .attr('fill',colors[layer.key]);
  });
  var tPts=popTarget.map(function(v,i){return [x(weeks[i])+x.bandwidth()/2,y(v)];});
  g.append('path').attr('d',d3.line()(tPts)).attr('fill','none').attr('stroke','#666').attr('stroke-width',0.7).attr('stroke-dasharray','2,1.5');
  g.selectAll('circle.t').data(tPts).join('circle').attr('class','t').attr('cx',function(d){return d[0];}).attr('cy',function(d){return d[1];})
    .attr('r',2.4).attr('fill','#fff').attr('stroke','#555').attr('stroke-width',0.8);
  table.forEach(function(d){
    var tot=d.story+d.bug, c=x(d.w)+x.bandwidth()/2;
    txt(g,c+1,y(tot)-3,tot,{size:8,bold:true,fill:'#444',rotate:-90});
    txt(g,c+2,611,d.w,{fill:'#666',anchor:'end',rotate:-45});
  });
  txt(g,948.7,520,'Time Spent (h)',{size:8,bold:true,fill:'#444',anchor:'middle',rotate:-90});
  rich(g,1158.7,646,[['Created by Week Index',true],[' ( 13 items )']],{anchor:'middle'});
  legend(g,1139,665,[{label:'Target',color:'#666',kind:'line',hollow:true,gap:13},{label:'Bug',color:red,gap:13},{label:'Story',color:blue,gap:0}]);
  txt(g,979.5,451,'119%',{size:29,fill:'#0DAF0D',spacing:1});
  var big={size:13,fill:'#3A3A3A',family:'"DejaVu Sans"',spacing:0.5};
  [['Target','24.84k',1060.3],['Achieved','29.4k',1120.3],['Remaining','0',1179.7]].forEach(function(k){
    txt(g,k[2],442.7,k[0],{size:8.8,fill:'#555'});
    txt(g,k[2],456,k[1],big);
  });
})();
</script>
</body>
</html>
